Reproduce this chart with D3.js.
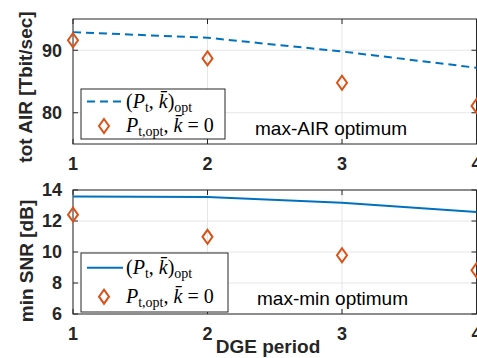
<!DOCTYPE html>
<html>
<head>
<meta charset="utf-8">
<script src="https://cdn.jsdelivr.net/npm/d3@7"></script>
<style>
  body { margin: 0; background: #fff; }
  svg { display: block; }
</style>
</head>
<body>
<div id="chart"></div>
<script>
const periods = [1, 2, 3, 4];
const airOpt = [92.9, 92.0, 89.8, 87.2];
const airK0 = [91.6, 88.7, 84.8, 81.1];
const snrOpt = [13.58, 13.55, 13.17, 12.58];
const snrK0 = [12.41, 10.98, 9.79, 8.82];
const airTicks = [80, 90];
const snrTicks = [6, 8, 10, 12, 14];

const W = 477, H = 358;
const blue = "#0072BD", orange = "#D95319", axisCol = "#262626";

const svg = d3.select("#chart").append("svg")
    .attr("width", W).attr("height", H)
    .attr("font-family", "'Liberation Sans', Arial, sans-serif");

const x = d3.scaleLinear().domain([1, 4]).range([73, 476.5]);

function panel(cfg) {
    const y = d3.scaleLinear().domain(cfg.domain).range([cfg.bottom, cfg.top]);
    const g = svg.append("g");

    // grid
    g.selectAll(".gx").data(periods).join("line")
        .attr("x1", d => x(d)).attr("x2", d => x(d))
        .attr("y1", cfg.top).attr("y2", cfg.bottom)
        .attr("stroke", "#e6e6e6").attr("stroke-width", 1);
    g.selectAll(".gy").data(cfg.ticks).join("line")
        .attr("x1", x.range()[0]).attr("x2", x.range()[1])
        .attr("y1", d => y(d)).attr("y2", d => y(d))
        .attr("stroke", "#e6e6e6").attr("stroke-width", 1);

    // box
    g.append("rect")
        .attr("x", x.range()[0]).attr("y", cfg.top)
        .attr("width", x.range()[1] - x.range()[0]).attr("height", cfg.bottom - cfg.top)
        .attr("fill", "none").attr("stroke", axisCol).attr("stroke-width", 1);

    // inward ticks
    periods.forEach(d => {
        g.append("line").attr("x1", x(d)).attr("x2", x(d))
            .attr("y1", cfg.bottom).attr("y2", cfg.bottom - 5).attr("stroke", axisCol);
        g.append("line").attr("x1", x(d)).attr("x2", x(d))
            .attr("y1", cfg.top).attr("y2", cfg.top + 5).attr("stroke", axisCol);
    });
    cfg.ticks.forEach(d => {
        g.append("line").attr("x1", x.range()[0]).attr("x2", x.range()[0] + 5)
            .attr("y1", y(d)).attr("y2", y(d)).attr("stroke", axisCol);
        g.append("line").attr("x1", x.range()[1]).attr("x2", x.range()[1] - 5)
            .attr("y1", y(d)).attr("y2", y(d)).attr("stroke", axisCol);
    });

    // tick labels
    g.selectAll(".yl").data(cfg.ticks).join("text")
        .attr("x", 62).attr("y", d => y(d)).attr("dy", "0.36em")
        .attr("text-anchor", "end").attr("font-size", 18).attr("font-weight", "bold")
        .attr("fill", axisCol).text(d => d);
    g.selectAll(".xl").data(periods).join("text")
        .attr("x", d => x(d)).attr("y", cfg.bottom + 26)
        .attr("text-anchor", "middle").attr("font-size", 18).attr("font-weight", "bold")
        .attr("fill", axisCol).text(d => d);

    // y label
    g.append("text")
        .attr("transform", `translate(${cfg.ylabelX},${cfg.ylabelY}) rotate(-90)`)
        .attr("text-anchor", "middle").attr("font-size", 19).attr("font-weight", "bold")
        .attr("fill", axisCol).text(cfg.ylabel);

    // series line
    const line = d3.line().x((d, i) => x(periods[i])).y(d => y(d));
    g.append("path").datum(cfg.opt)
        .attr("d", line).attr("fill", "none").attr("stroke", blue)
        .attr("stroke-width", 2).attr("stroke-dasharray", cfg.dashed ? "8,5" : null);

    // diamonds
    const diamond = "M0,-7L5,0L0,7L-5,0Z";
    g.selectAll(".dm").data(cfg.k0).join("path")
        .attr("transform", (d, i) => `translate(${x(periods[i])},${y(d)})`)
        .attr("d", diamond).attr("fill", "none").attr("stroke", orange).attr("stroke-width", 2);

    // legend
    const L = cfg.legend;
    g.append("rect").attr("x", L.x).attr("y", L.y).attr("width", L.w).attr("height", L.h)
        .attr("fill", "#fff").attr("stroke", axisCol).attr("stroke-width", 1);
    const r1 = L.y + L.h * 0.25, r2 = L.y + L.h * 0.74;
    g.append("line").attr("x1", L.x + 6).attr("x2", L.x + 42).attr("y1", r1).attr("y2", r1)
        .attr("stroke", blue).attr("stroke-width", 2)
        .attr("stroke-dasharray", cfg.dashed ? "8,5" : null);
    g.append("path").attr("transform", `translate(${L.x + 23},${r2})`)
        .attr("d", diamond).attr("fill", "none").attr("stroke", orange).attr("stroke-width", 2);

    const serif = "'Liberation Serif', 'DejaVu Serif', serif";
    const t1 = g.append("text").attr("x", L.x + 45).attr("y", r1 + 6)
        .attr("font-family", serif).attr("font-size", 20).attr("fill", "#000");
    t1.append("tspan").text("(");
    t1.append("tspan").attr("font-style", "italic").text("P");
    t1.append("tspan").attr("font-size", 14).attr("dy", 4).text("t");
    t1.append("tspan").attr("dy", -4).text(", ");
    t1.append("tspan").attr("font-style", "italic").text("k\u0304");
    t1.append("tspan").text(")");
    t1.append("tspan").attr("font-size", 14).attr("dy", 4).text("opt");

    const t2 = g.append("text").attr("x", L.x + 45).attr("y", r2 + 6)
        .attr("font-family", serif).attr("font-size", 20).attr("fill", "#000");
    t2.append("tspan").attr("font-style", "italic").text("P");
    t2.append("tspan").attr("font-size", 14).attr("dy", 4).text("t,opt");
    t2.append("tspan").attr("dy", -4).text(", ");
    t2.append("tspan").attr("font-style", "italic").text("k\u0304");
    t2.append("tspan").text(" = 0");

    g.append("text").attr("x", cfg.noteX).attr("y", cfg.noteY)
        .attr("font-size", 19).attr("fill", "#000").text(cfg.note);
}

panel({
    domain: [75, 95], top: 19, bottom: 144, ticks: airTicks,
    opt: airOpt, k0: airK0, dashed: true,
    ylabel: "tot AIR [Tbit/sec]", ylabelX: 32, ylabelY: 87,
    legend: {x: 81, y: 89, w: 144, h: 50},
    note: "max-AIR optimum", noteX: 255, noteY: 135
});

panel({
    domain: [6, 14], top: 190, bottom: 314, ticks: snrTicks,
    opt: snrOpt, k0: snrK0, dashed: false,
    ylabel: "min SNR [dB]", ylabelX: 33, ylabelY: 261,
    legend: {x: 81, y: 253, w: 147, h: 59},
    note: "max-min optimum", noteX: 257, noteY: 305
});

svg.append("text").attr("x", 268).attr("y", 353)
    .attr("text-anchor", "middle").attr("font-size", 19).attr("font-weight", "bold")
    .attr("fill", axisCol).text("DGE period");
</script>
</body>
</html>
